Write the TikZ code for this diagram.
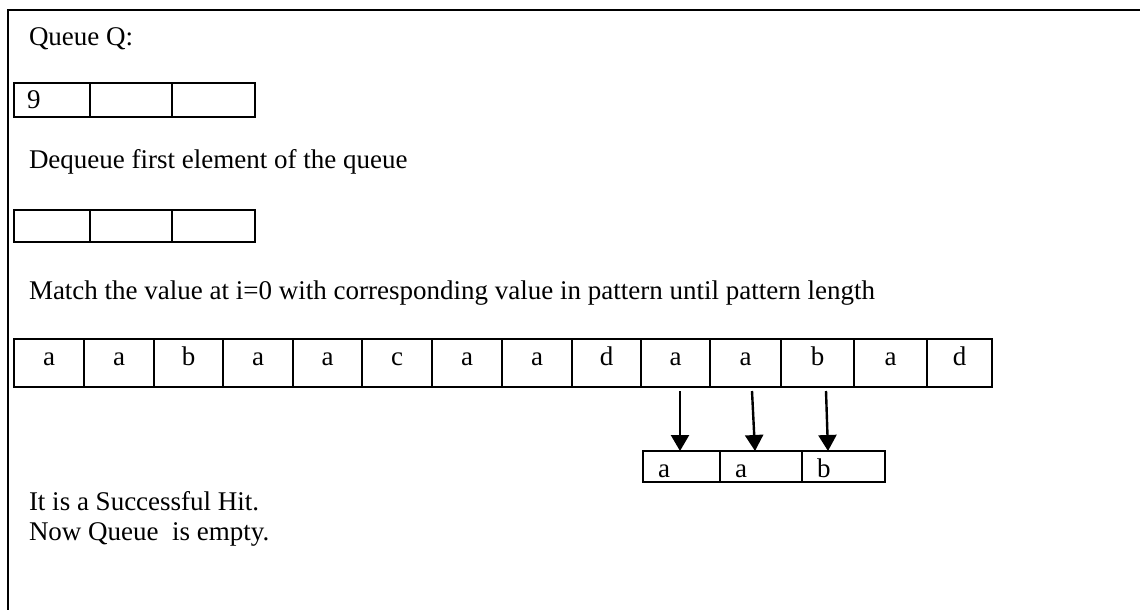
\documentclass[tikz,border=0pt]{standalone}
\usepackage{fontspec}
\setmainfont{Liberation Serif}
\usetikzlibrary{arrows.meta}

\tikzset{
  frameline/.style={line width=1.1pt, black},
  cell/.style={draw, line width=1pt, rectangle, inner sep=0pt, outer sep=0pt},
  txt/.style={inner sep=0pt, outer sep=0pt, anchor=base west, font=\fontsize{13.5}{16}\selectfont},
  ctxt/.style={inner sep=0pt, outer sep=0pt, anchor=base, font=\fontsize{13.5}{16}\selectfont},
  arr/.style={line width=1.2pt, -{Triangle[width=9pt,length=8pt]}},
}

\begin{document}
\begin{tikzpicture}[x=0.5pt,y=-0.5pt]
\useasboundingbox (0,0) rectangle (1140,610);

% outer frame (top and left edges)
\draw[frameline] (1140,10) -- (8,10) -- (8,610);

% headings and notes
\node[txt] (title) at (29,46) {Queue Q:};
\node[txt] (deq) at (29,169) {Dequeue first element of the queue};
\node[txt] (match) at (29,299) {Match the value at i=0 with corresponding value in pattern until pattern length};
\node[txt] (hit) at (29,510) {It is a Successful Hit.};
\node[txt] (empty) at (29,540) {Now Queue\ \ is empty.};

% queue before dequeue
\foreach \l/\r [count=\i] in {14/90, 90/172, 172/255}
  \node[cell, minimum width={(\r-\l)*0.5pt}, minimum height=17pt]
    (qa\i) at ({(\l+\r)/2},100) {};
\node[txt] (nine) at (27,109) {9};

% queue after dequeue
\foreach \l/\r [count=\i] in {14/90, 90/172, 172/255}
  \node[cell, minimum width={(\r-\l)*0.5pt}, minimum height=16pt]
    (qb\i) at ({(\l+\r)/2},226) {};

% text string
\foreach \l/\r/\t [count=\i] in {14/84/a, 84/154/a, 154/223/b, 223/293/a,
    293/362/a, 362/432/c, 432/502/a, 502/572/a, 572/641/d, 641/710/a,
    710/781/a, 781/854/b, 854/927/a, 927/992/d}
{
  \node[cell, minimum width={(\r-\l)*0.5pt}, minimum height=24pt]
    (s\i) at ({(\l+\r)/2},363) {};
  \node[ctxt] (st\i) at ({(\l+\r)/2},365) {\t};
}

% pattern
\foreach \l/\r/\t [count=\i] in {643/720/a, 720/802/a, 802/885/b}
{
  \node[cell, minimum width={(\r-\l)*0.5pt}, minimum height=15.5pt]
    (p\i) at ({(\l+\r)/2},466.5) {};
  \node[txt] (pt\i) at ({\l+15},477) {\t};
}

% comparison arrows
\coordinate (a1) at (680,391);
\coordinate (a2) at (752,391);
\coordinate (a3) at (826,391);
\coordinate (b1) at (680,451);
\coordinate (b2) at (755,451);
\coordinate (b3) at (828,451);
\draw[arr] (a1) -- (b1);
\draw[arr] (a2) -- (b2);
\draw[arr] (a3) -- (b3);
\end{tikzpicture}
\end{document}
